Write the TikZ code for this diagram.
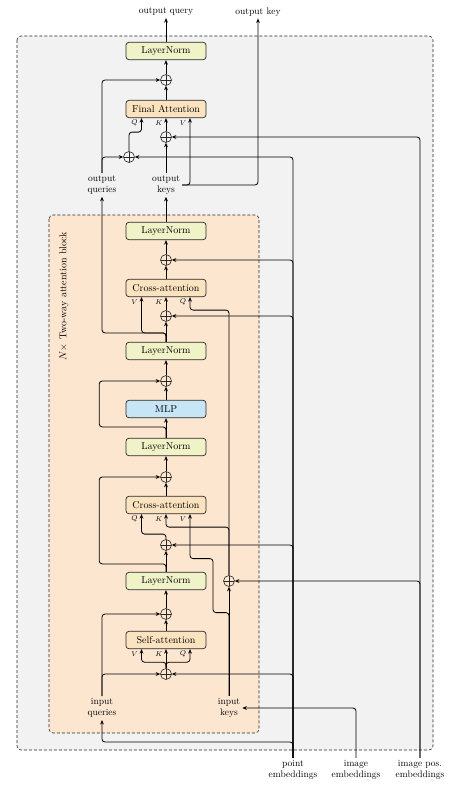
\documentclass[tikz,border=0pt]{standalone}
\usetikzlibrary{arrows.meta,calc}
\definecolor{outerbg}{RGB}{242,242,242}
\definecolor{innerbg}{RGB}{253,230,208}
\definecolor{lncol}{RGB}{240,243,200}
\definecolor{attcol}{RGB}{252,227,192}
\definecolor{mlpcol}{RGB}{198,230,245}
\definecolor{edgecol}{RGB}{40,40,40}
\begin{document}
\begin{tikzpicture}[x=1pt,y=-1pt,
  blk/.style={draw=edgecol, line width=0.7pt, rounded corners=3pt, minimum width=80pt, minimum height=17.5pt, inner sep=0pt, font=\fontsize{10}{12}\selectfont},
  lnbox/.style={blk, fill=lncol},
  attbox/.style={blk, fill=attcol},
  mlpbox/.style={blk, fill=mlpcol},
  plusnode/.style={circle, draw=edgecol, line width=0.6pt, minimum size=11pt, inner sep=0pt,
    path picture={\draw[line width=0.5pt,edgecol] (path picture bounding box.north) -- (path picture bounding box.south) (path picture bounding box.west) -- (path picture bounding box.east);}},
  lbl/.style={align=center, font=\fontsize{9.5}{11.5}\selectfont, inner sep=2pt},
  port/.style={font=\fontsize{7}{8}\selectfont, inner sep=0pt},
  arr/.style={draw=black, line width=0.8pt, rounded corners=3pt, -{Stealth[length=4.5pt,width=3.8pt]}},
  dashbox/.style={draw=edgecol, line width=0.6pt, dash pattern=on 3pt off 2pt, rounded corners=4pt},
]
\useasboundingbox (0,0) rectangle (456,792);
\path[dashbox, fill=outerbg] (17,36) rectangle (433,750);
\path[dashbox, fill=innerbg] (49,215) rectangle (259,733);
\node[rotate=90, font=\fontsize{10}{12}\selectfont] (blocklbl) at (64,296) {$N\times$ Two-way attention block};

% top part
\node[lbl] (outq) at (166,12) {output query};
\node[lbl] (outk) at (258,12) {output key};
\node[lnbox] (ln4) at (166,51) {LayerNorm};
\node[plusnode] (ptop) at (166,80) {};
\node[attbox] (fa) at (166,109) {Final Attention};
\node[plusnode] (pK) at (166,137) {};
\node[plusnode] (pQ) at (129,157) {};
\node[lbl] (oq) at (102,185) {output\\queries};
\node[lbl] (ok) at (166,185) {output\\keys};

% inner block
\node[lnbox] (ln3) at (166,231) {LayerNorm};
\node[plusnode] (p6) at (166,260) {};
\node[attbox] (ca2) at (166,288) {Cross-attention};
\node[plusnode] (p5) at (166,316) {};
\node[lnbox] (ln2) at (166,351) {LayerNorm};
\node[plusnode] (p4) at (166,381) {};
\node[mlpbox] (mlp) at (166,409) {MLP};
\node[lnbox] (ln1b) at (166,447) {LayerNorm};
\node[plusnode] (p3) at (166,477) {};
\node[attbox] (ca1) at (166,505) {Cross-attention};
\node[plusnode] (p2) at (166,545) {};
\node[lnbox] (ln1) at (166,581) {LayerNorm};
\node[plusnode] (pk) at (229,581) {};
\node[plusnode] (p1) at (166,614) {};
\node[attbox] (sa) at (166,640) {Self-attention};
\node[plusnode] (p0) at (166,674) {};
\node[lbl] (iq) at (102,708) {input\\queries};
\node[lbl] (ik) at (229,708) {input\\keys};

% bottom inputs
\node[lbl] (pe) at (293,770) {point\\embeddings};
\node[lbl] (ie) at (356,770) {image\\embeddings};
\node[lbl] (ipe) at (420,770) {image pos.\\embeddings};

% port labels
\node[port] at ($(fa.south)+(-31.5,5)$) {$Q$};
\node[port] at ($(fa.south)+(-7,5)$) {$K$};
\node[port] at ($(fa.south)+(17,5)$) {$V$};
\node[port] at ($(ca2.south)+(-31.5,5)$) {$V$};
\node[port] at ($(ca2.south)+(-7,5)$) {$K$};
\node[port] at ($(ca2.south)+(17,5)$) {$Q$};
\node[port] at ($(ca1.south)+(-31.5,5)$) {$Q$};
\node[port] at ($(ca1.south)+(-7,5)$) {$K$};
\node[port] at ($(ca1.south)+(17,5)$) {$V$};
\node[port] at ($(sa.south)+(-31.5,5)$) {$V$};
\node[port] at ($(sa.south)+(-7,5)$) {$K$};
\node[port] at ($(sa.south)+(17,5)$) {$Q$};

% ---- connectors: top part
\draw[arr] (ln4.north) -- (outq.south);
\draw[arr] (ptop.north) -- (ln4.south);
\draw[arr] (fa.north) -- (ptop.south);
\draw[arr] (pK.north) -- (fa.south);
\draw[arr] (ok.north) -- (pK.south);
\draw[arr] (ok.east) -| (outk.south);
\draw[arr] (ok.east) -| ($(fa.south)+(24,0)$);
\draw[arr] (oq.north) |- (ptop.west);
\draw[arr] (oq.north) |- (pQ.west);
\draw[arr] (pQ.north) |- ($(fa.south)+(-24.5,14)$) -- ($(fa.south)+(-24.5,0)$);
\draw[arr] (pe.north) |- (pQ.east);
\draw[arr] (ipe.north) |- (pK.east);

% ---- inner block, upper part
\draw[arr] (ln3.north) -- (ok.south);
\draw[arr] (p6.north) -- (ln3.south);
\draw[arr] (ca2.north) -- (p6.south);
\draw[arr] (pe.north) |- (p6.east);
\draw[arr] (p5.north) -- (ca2.south);
\draw[arr] (pe.north) |- (p5.east);
\draw[arr] (ln2.north) -- (p5.south);
\draw[arr] (ln2.north) -- ++(0,-9) -| ($(ca2.south)+(-24.5,0)$);
\draw[arr] (ln2.north) -- ++(0,-9) -| (oq.south);
\draw[arr] (pk.north) |- ($(ca2.south)+(24,13)$) -- ($(ca2.south)+(24,0)$);

% ---- MLP part
\draw[arr] (p4.north) -- (ln2.south);
\draw[arr] (mlp.north) -- (p4.south);
\draw[arr] (ln1b.north) -- (mlp.south);
\draw[arr] (ln1b.north) -- ++(0,-11) -| ($(p4.west)+(-61,0)$) -- (p4.west);
\draw[arr] (p3.north) -- (ln1b.south);

% ---- lower cross-attention
\draw[arr] (ca1.north) -- (p3.south);
\draw[arr] (ln1.north) -- ++(0,-8) -| ($(p3.west)+(-61,0)$) -- (p3.west);
\draw[arr] (ln1.north) -- (p2.south);
\draw[arr] (p2.north) |- ($(ca1.south)+(-24.5,20)$) -- ($(ca1.south)+(-24.5,0)$);
\draw[arr] (pk.north) |- ($(ca1.south)+(0,13)$) -- (ca1.south);
\draw[arr] (pe.north) |- (p2.east);
\draw[arr] (ik.north) |- ($(ca1.south)+(47,98.5)$) -- ($(ca1.south)+(47,44.5)$) -- ($(ca1.south)+(24,44.5)$) -- ($(ca1.south)+(24,0)$);
\draw[arr] (ik.north) -- (pk.south);
\draw[arr] (ipe.north) |- (pk.east);

% ---- self-attention
\draw[arr] (p1.north) -- (ln1.south);
\draw[arr] (sa.north) -- (p1.south);
\draw[arr] (iq.north) |- (p1.west);
\draw[arr] (iq.north) |- (p0.west);
\draw[arr] (pe.north) |- (p0.east);
\draw[arr] (p0.north) -- (sa.south);
\draw[arr] (p0.north) -- ++(0,-6) -| ($(sa.south)+(-24.5,0)$);
\draw[arr] (p0.north) -- ++(0,-6) -| ($(sa.south)+(24,0)$);

% ---- bottom inputs
\draw[arr] (pe.north) |- ($(iq.south)+(0,22)$) -- (iq.south);
\draw[arr] (ie.north) |- (ik.east);
\end{tikzpicture}
\end{document}
